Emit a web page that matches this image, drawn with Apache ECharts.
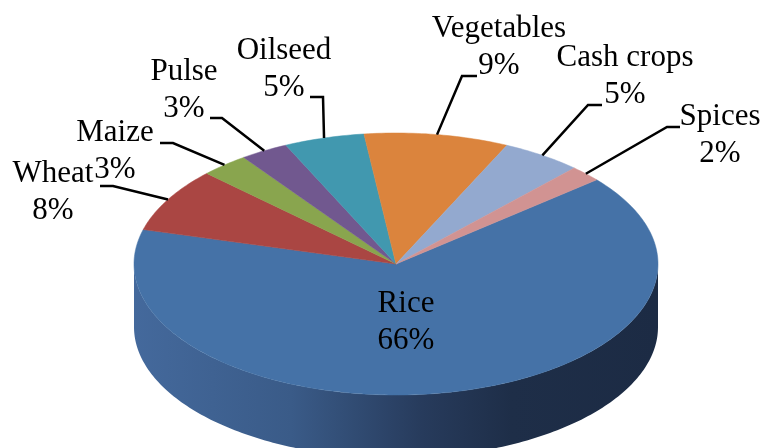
<!DOCTYPE html>
<html><head><meta charset="utf-8">
<script src="https://cdn.jsdelivr.net/npm/echarts@6/dist/echarts.min.js"></script>
<style>html,body{margin:0;padding:0;background:#fff}#c{width:764px;height:448px}</style>
</head><body><div id="c"></div>
<script>
// ---- data ----
const categories = ['Rice', 'Wheat', 'Maize', 'Pulse', 'Oilseed', 'Vegetables', 'Cash crops', 'Spices'];
const values = [66, 8, 3, 3, 5, 9, 5, 2];

// ---- styles / layout ----
const colors = ['#4572a7', '#aa4643', '#89a54e', '#71588f', '#4198af', '#db843d', '#93a9cf', '#d19392'];
const sideColors = [
  ['#44699c', '#3a5b88', '#273b5c', '#1e2e48', '#1c2b44'],
  ['#8a3431', '#7a2c29', '#5e201e', '#4a1816', '#451614'],
  ['#6e8a3a', '#61792f', '#4a5d22', '#3a4a1a', '#364517'],
  ['#5a4674', '#4f3d66', '#3c2e4e', '#2f243e', '#2b213a'],
  ['#327d91', '#2b6e80', '#205463', '#19424e', '#173d48'],
  ['#b86a2a', '#a55d23', '#80461a', '#663714', '#603312'],
  ['#7489b0', '#67799d', '#4f5d7a', '#3e4a61', '#3a455a'],
  ['#b07473', '#9d6564', '#7b4d4c', '#613c3b', '#5b3837']
];
const pie = { cx: 396, cy: 264, rx: 262, ry: 131, depth: 63, startAngle: -40 };
const labelLayout = [
  { c: [406, 322], line: null },
  { c: [53, 192], line: [[113, 186], [100, 186]] },
  { c: [115, 151], line: [[173, 143], [160, 143]] },
  { c: [184, 90], line: [[222, 118], [210, 118]] },
  { c: [284, 69], line: [[323, 97], [310, 97]] },
  { c: [499, 47], line: [[462, 76], [477, 76]] },
  { c: [625, 76], line: [[588, 105], [602, 105]] },
  { c: [720, 135], line: [[667, 127], [680, 127]] }
];

const total = values.reduce((a, b) => a + b, 0);
const starts = [];
let acc = 0;
values.forEach(v => { starts.push(acc); acc += v; });

function pt(deg, dy) {
  const r = deg * Math.PI / 180;
  return [pie.cx + pie.rx * Math.cos(r), pie.cy + pie.ry * Math.sin(r) + (dy || 0)];
}
function arcPts(a0, a1, dy) {
  const pts = [];
  const n = Math.max(2, Math.ceil(Math.abs(a1 - a0)));
  for (let k = 0; k <= n; k++) pts.push(pt(a0 + (a1 - a0) * k / n, dy));
  return pts;
}

function renderItem(params, api) {
  const i = params.dataIndex;
  const v = api.value(1);
  const a0 = pie.startAngle + starts[i] / total * 360;
  const a1 = a0 + v / total * 360;
  const children = [];
  // side walls (front half: angles in [0,180] mod 360)
  for (let k = -360; k <= 360; k += 360) {
    const s = Math.max(a0, k), e = Math.min(a1, k + 180);
    if (e > s) {
      const top = arcPts(s, e, 0);
      const bot = arcPts(e, s, pie.depth);
      const sc = sideColors[i];
      children.push({
        type: 'polygon',
        shape: { points: top.concat(bot) },
        style: {
          fill: new echarts.graphic.LinearGradient(0, 0, 1, 0, [
            { offset: 0, color: sc[0] }, { offset: 0.3, color: sc[1] },
            { offset: 0.55, color: sc[2] }, { offset: 0.72, color: sc[3] },
            { offset: 1, color: sc[4] }
          ], false),
          stroke: null
        },
        z2: 1
      });
    }
  }
  // top face
  children.push({
    type: 'polygon',
    shape: { points: [[pie.cx, pie.cy]].concat(arcPts(a0, a1, 0)) },
    style: { fill: colors[i], stroke: colors[i], lineWidth: 0.5 },
    z2: 2
  });
  // leader line
  const lay = labelLayout[i];
  if (lay.line) {
    const m = pt((a0 + a1) / 2, 0);
    children.push({
      type: 'polyline',
      shape: { points: [m].concat(lay.line) },
      style: { stroke: '#000', lineWidth: 2.5, fill: null },
      z2: 5
    });
  }
  children.push({
    type: 'text',
    x: lay.c[0], y: lay.c[1],
    style: {
      text: categories[i] + '\n' + values[i] + '%',
      fill: '#000',
      fontSize: 31,
      fontFamily: '"Liberation Serif", "Times New Roman", serif',
      align: 'center',
      verticalAlign: 'middle',
      lineHeight: 37
    },
    z2: 6
  });
  return { type: 'group', children: children };
}

const chart = echarts.init(document.getElementById('c'), null, { renderer: 'canvas' });
chart.setOption({
  animation: false,
  series: [{
    type: 'custom',
    coordinateSystem: 'none',
    renderItem: renderItem,
    data: categories.map((c, i) => [i, values[i]])
  }]
});
</script>
</body></html>
